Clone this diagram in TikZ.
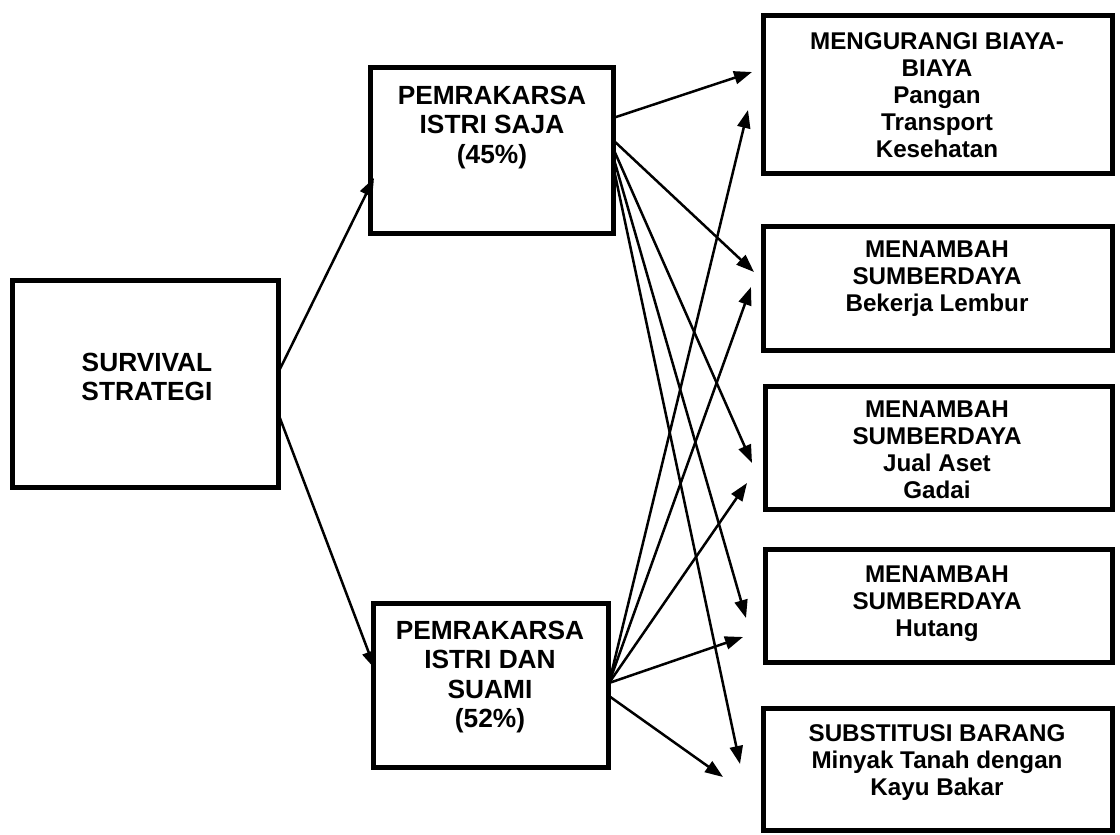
\documentclass[tikz,border=0pt]{standalone}
\usepackage{fontspec}
\setmainfont{Liberation Sans}
\usetikzlibrary{arrows.meta}
\begin{document}
\begin{tikzpicture}[x=1pt,y=-1pt,
  box/.style={draw, line width=5pt, inner sep=0pt, outer sep=0pt},
  lbl/.style={font=\bfseries\fontsize{24.2}{27}\selectfont, align=center, anchor=north, inner sep=0pt},
  lblL/.style={font=\bfseries\fontsize{26.3}{29.5}\selectfont, align=center, anchor=north, inner sep=0pt},
  arr/.style={line width=2.5pt, -{Triangle[length=18pt,width=13pt]}}]
\useasboundingbox (0,0) rectangle (1120,835);
% left boxes
\node[box, minimum width=266pt, minimum height=207pt] (surv) at (145,383.5) {};
\node[box, minimum width=243pt, minimum height=166pt] (saja) at (491.5,150) {};
\node[box, minimum width=235pt, minimum height=164pt] (suami) at (490.5,685) {};
% right boxes
\node[box, minimum width=349pt, minimum height=158pt] (ba) at (937.5,94) {};
\node[box, minimum width=349pt, minimum height=124pt] (bb) at (937.5,288) {};
\node[box, minimum width=347pt, minimum height=123pt] (bc) at (938.5,447.5) {};
\node[box, minimum width=347pt, minimum height=113pt] (bd) at (938.5,606) {};
\node[box, minimum width=349pt, minimum height=122pt] (be) at (937.5,769) {};
% labels
\node[lblL] (tsurv) at (147,352.5) {SURVIVAL\\STRATEGI};
\node[lblL] (tsaja) at (492,85.5) {PEMRAKARSA\\ISTRI SAJA\\(45\%)};
\node[lblL] (tsuami) at (490,620.5) {PEMRAKARSA\\ISTRI DAN\\SUAMI\\(52\%)};
\node[lbl] (ta) at (937,32) {MENGURANGI BIAYA-\\BIAYA\\Pangan\\Transport\\Kesehatan};
\node[lbl] (tb) at (937,241) {MENAMBAH\\SUMBERDAYA\\Bekerja Lembur};
\node[lbl] (tc) at (937,401) {MENAMBAH\\SUMBERDAYA\\Jual Aset\\Gadai};
\node[lbl] (td) at (937,566) {MENAMBAH\\SUMBERDAYA\\Hutang};
\node[lbl] (te) at (937,724.5) {SUBSTITUSI BARANG\\Minyak Tanah dengan\\Kayu Bakar};
% arrow end points
\coordinate (s1) at (278,373);
\coordinate (s2) at (278,413);
\coordinate (t1) at (374,178);
\coordinate (t2) at (375,669);
\coordinate (a0) at (613,118);
\coordinate (a1) at (752,72);
\coordinate (a0b) at (613,140);
\coordinate (a2) at (754,272);
\coordinate (a0c) at (613,148);
\coordinate (a3) at (752,463);
\coordinate (a0d) at (613,156);
\coordinate (a4) at (746,618);
\coordinate (a0e) at (613,165);
\coordinate (a5) at (740,764);
\coordinate (b0) at (609,683);
\coordinate (b0e) at (609,696);
\coordinate (b1) at (748,110);
\coordinate (b2) at (751,287);
\coordinate (b3) at (747,483);
\coordinate (b4) at (743,637);
\coordinate (b5) at (723,777);
% arrows
\draw[arr] (s1) -- (t1);
\draw[arr] (s2) -- (t2);
\draw[arr] (a0) -- (a1);
\draw[arr] (a0b) -- (a2);
\draw[arr] (a0c) -- (a3);
\draw[arr] (a0d) -- (a4);
\draw[arr] (a0e) -- (a5);
\draw[arr] (b0) -- (b1);
\draw[arr] (b0) -- (b2);
\draw[arr] (b0) -- (b3);
\draw[arr] (b0) -- (b4);
\draw[arr] (b0e) -- (b5);
\end{tikzpicture}
\end{document}
